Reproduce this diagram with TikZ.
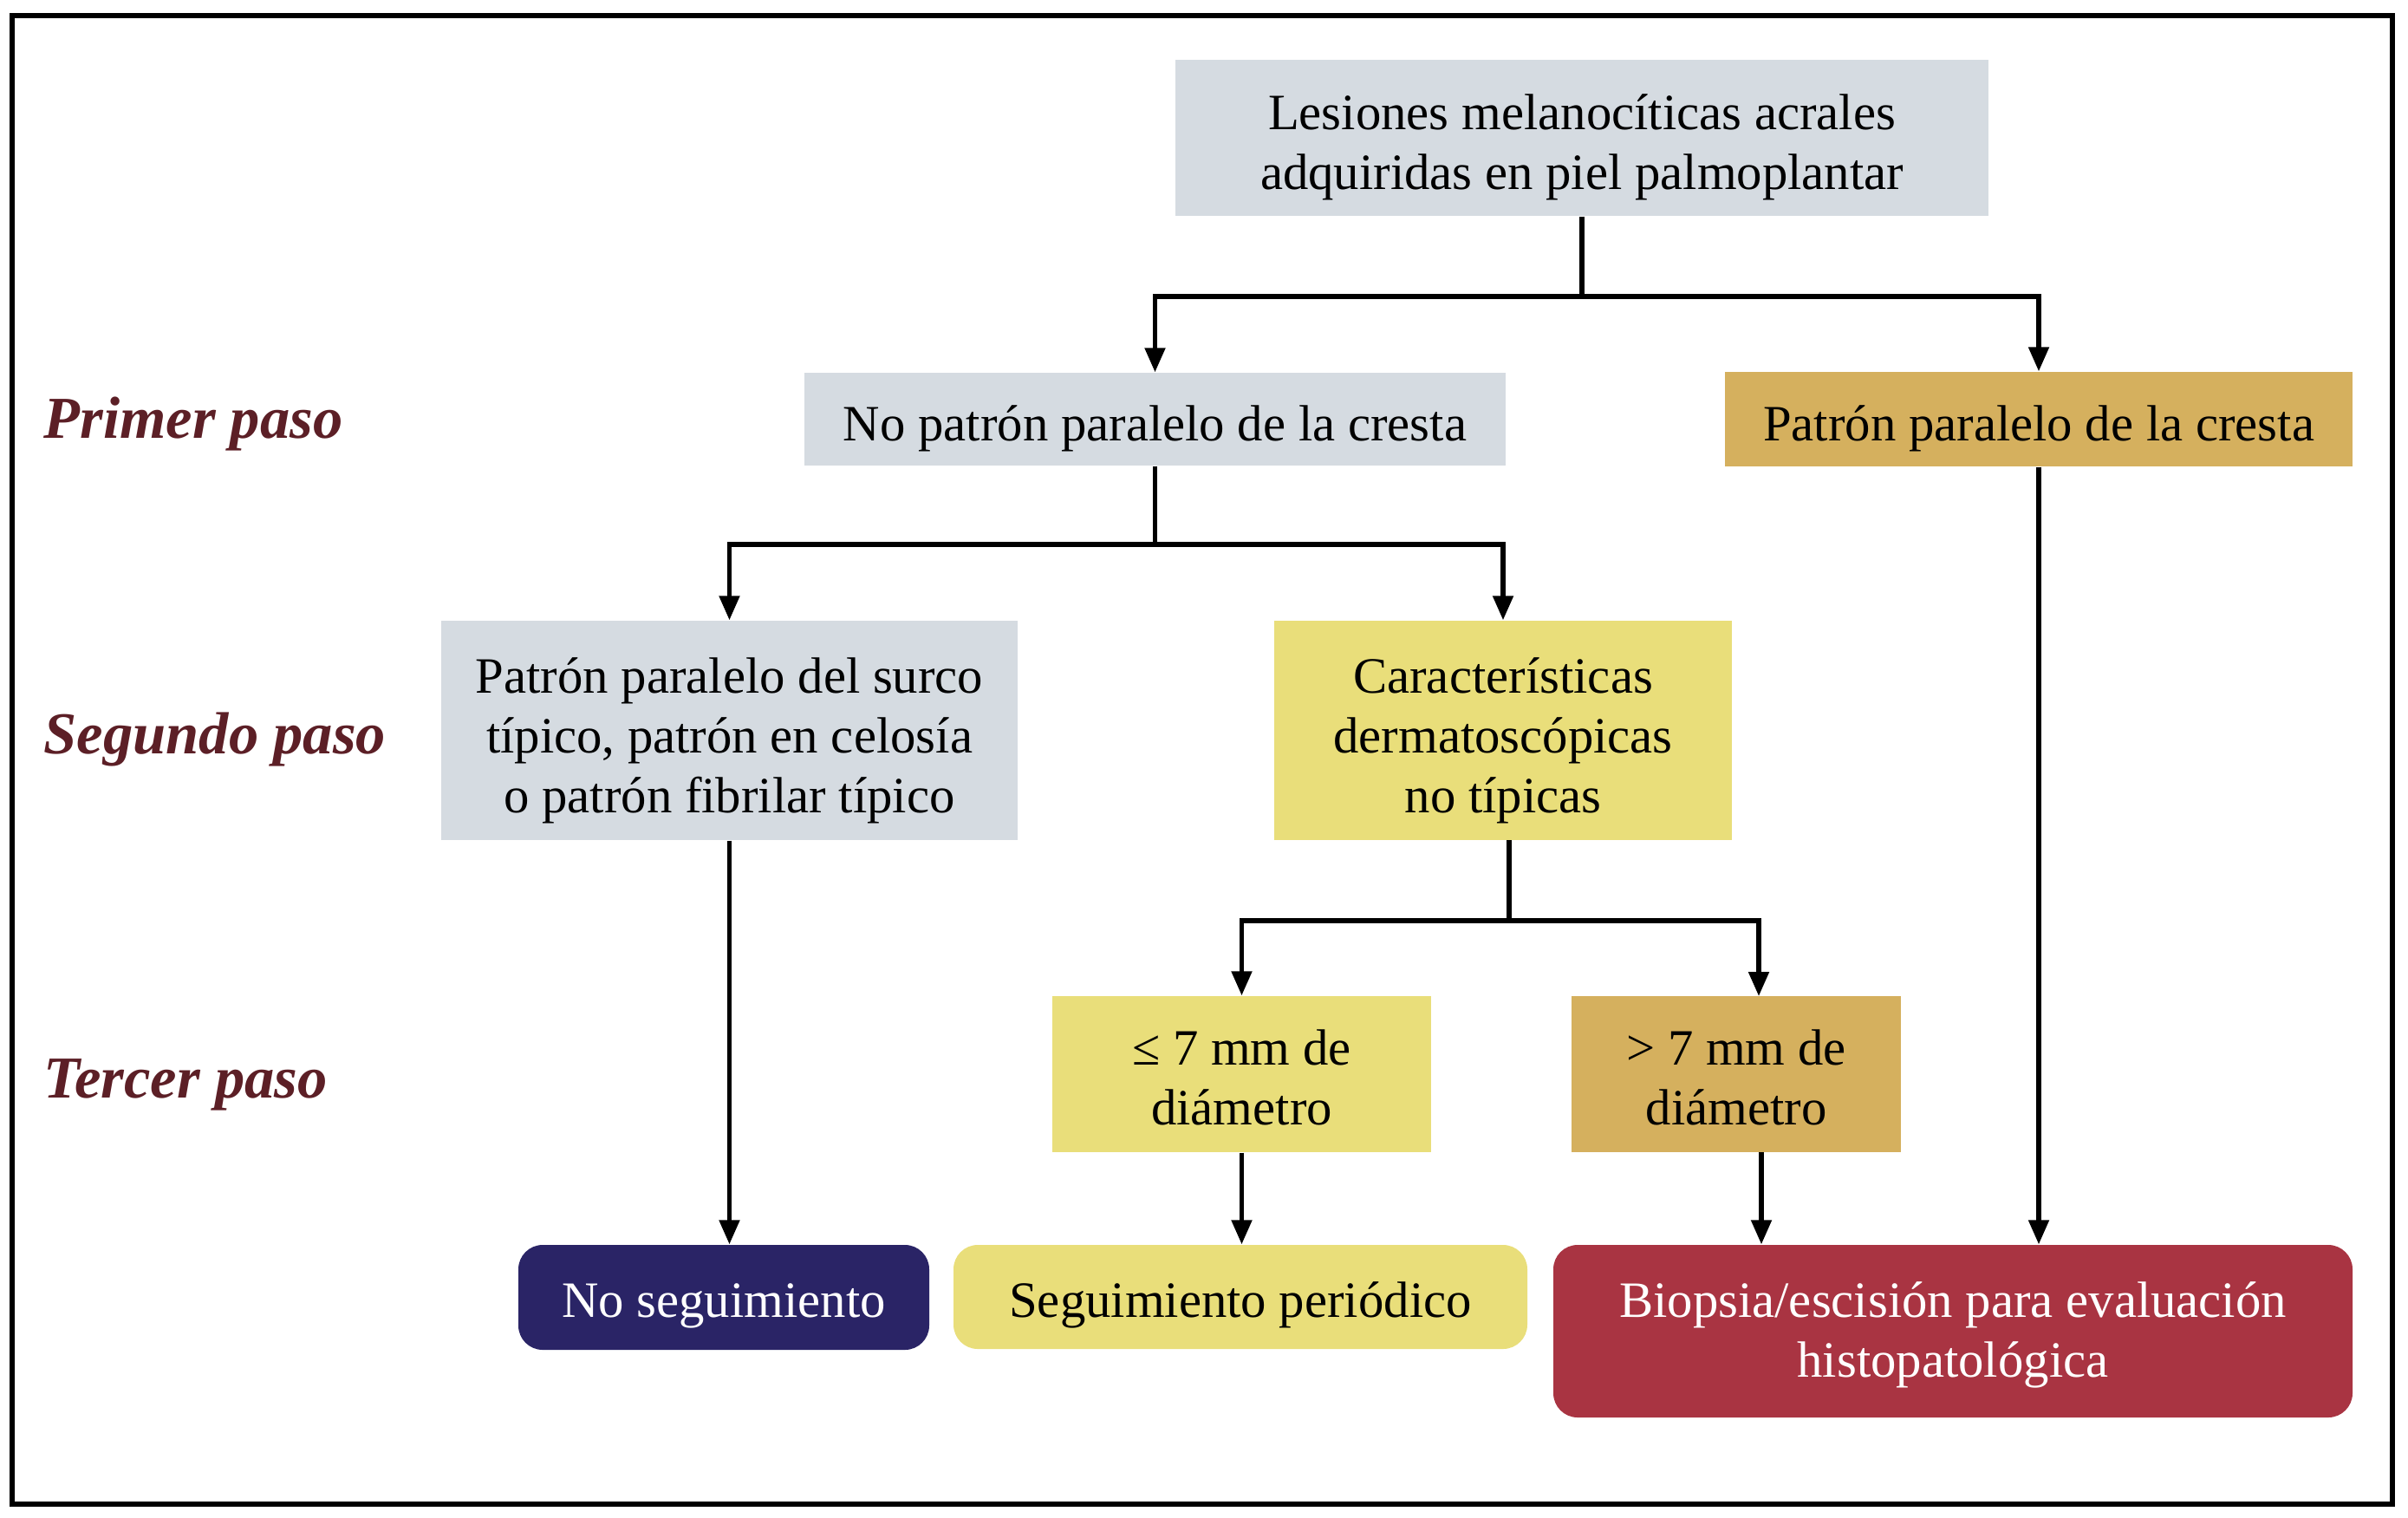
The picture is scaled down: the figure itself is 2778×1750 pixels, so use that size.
\documentclass[tikz,border=0pt]{standalone}
\usepackage{fontspec}
\setmainfont{Liberation Serif}
\usetikzlibrary{arrows.meta}
\definecolor{boxgray}{HTML}{D5DBE1}
\definecolor{boxyellow}{HTML}{E9DE7A}
\definecolor{boxgold}{HTML}{D5B05E}
\definecolor{boxred}{HTML}{A93442}
\definecolor{boxnavy}{HTML}{2A2466}
\definecolor{labelcol}{HTML}{5C1F26}
\tikzset{
  flowbox/.style={inner sep=0pt},
  roundbox/.style={flowbox, rounded corners=0.28cm},
  flowtext/.style={inner sep=0pt, align=center, font=\fontsize{16.7}{19.6}\selectfont, text=black},
  steplabel/.style={anchor=west, inner sep=0pt, text=labelcol, font=\fontsize{19.5}{22}\selectfont\bfseries\itshape},
  conn/.style={line width=1.45pt, draw=black},
  arr/.style={conn, -{Triangle[length=0.28cm, width=0.23cm]}},
  bx/.style 2 args={minimum width=#1*0.01cm, minimum height=#2*0.01cm}
}
\begin{document}
\begin{tikzpicture}[x=0.01cm, y=-0.01cm]
\useasboundingbox (0,0) rectangle (2778,1750);
\draw[line width=1.5pt] (14,18) rectangle (2760,1735);

% labels
\node[steplabel] (l1) at (50,489) {Primer paso};
\node[steplabel] (l2) at (50,853) {Segundo paso};
\node[steplabel] (l3) at (50,1251) {Tercer paso};

% boxes
\node[flowbox, fill=boxgray, bx={938}{180}] (top) at (1825,159) {};
\node[flowbox, fill=boxgray, bx={809}{107}] (nopar) at (1332.5,483.5) {};
\node[flowbox, fill=boxgold, bx={724}{109}] (par) at (2352,483.5) {};
\node[flowbox, fill=boxgray, bx={665}{253}] (surco) at (841.5,842.5) {};
\node[flowbox, fill=boxyellow, bx={528}{253}] (carac) at (1734,842.5) {};
\node[flowbox, fill=boxyellow, bx={437}{180}] (le) at (1432.5,1239) {};
\node[flowbox, fill=boxgold, bx={380}{180}] (gt) at (2003,1239) {};
\node[roundbox, fill=boxnavy, bx={474}{121}] (noseg) at (835,1496.5) {};
\node[roundbox, fill=boxyellow, bx={662}{120}] (seg) at (1431,1496) {};
\node[roundbox, fill=boxred, bx={922}{199}] (bio) at (2253,1535.5) {};

% box texts
\node[flowtext] (ttop) at ([yshift=-0.105cm]top.center) {Lesiones melanocíticas acrales\\adquiridas en piel palmoplantar};
\node[flowtext] (tnopar) at ([yshift=-0.105cm]nopar.center) {No patrón paralelo de la cresta};
\node[flowtext] (tpar) at ([yshift=-0.105cm]par.center) {Patrón paralelo de la cresta};
\node[flowtext] (tsurco) at ([yshift=-0.12cm]surco.center) {Patrón paralelo del surco\\típico, patrón en celosía\\o patrón fibrilar típico};
\node[flowtext] (tcarac) at ([yshift=-0.12cm]carac.center) {Características\\dermatoscópicas\\no típicas};
\node[flowtext] (tle) at ([yshift=-0.035cm]le.center) {≤ 7 mm de\\diámetro};
\node[flowtext] (tgt) at ([yshift=-0.035cm]gt.center) {> 7 mm de\\diámetro};
\node[flowtext, text=white] (tnoseg) at ([yshift=-0.1cm]noseg.center) {No seguimiento};
\node[flowtext] (tseg) at ([yshift=-0.09cm]seg.center) {Seguimiento periódico};
\node[flowtext, text=white] (tbio) at ([yshift=-0.045cm]bio.center) {Biopsia/escisión para evaluación\\histopatológica};

% connectors
\coordinate (j1) at (1825,342);
\draw[conn] (top.south) -- (j1);
\draw[arr] (j1) -| (nopar.north);
\draw[arr] (j1) -| (par.north);

\coordinate (j2) at (1332.5,628);
\draw[conn] (nopar.south) -- (j2);
\draw[arr] (j2) -| (surco.north);
\draw[arr] (j2) -| (carac.north);

\coordinate (c3) at (1741,969);
\coordinate (j3) at (1741,1062);
\coordinate (gtin) at (2029,1149);
\draw[conn] (c3) -- (j3);
\draw[arr] (j3) -| (le.north);
\draw[arr] (j3) -| (gtin);

\coordinate (gtout) at (2032,1329);
\draw[arr] (surco.south) -- (surco.south |- noseg.north);
\draw[arr] (le.south) -- (le.south |- seg.north);
\draw[arr] (gtout) -- (gtout |- bio.north);
\draw[arr] (par.south) -- (par.south |- bio.north);
\end{tikzpicture}
\end{document}
